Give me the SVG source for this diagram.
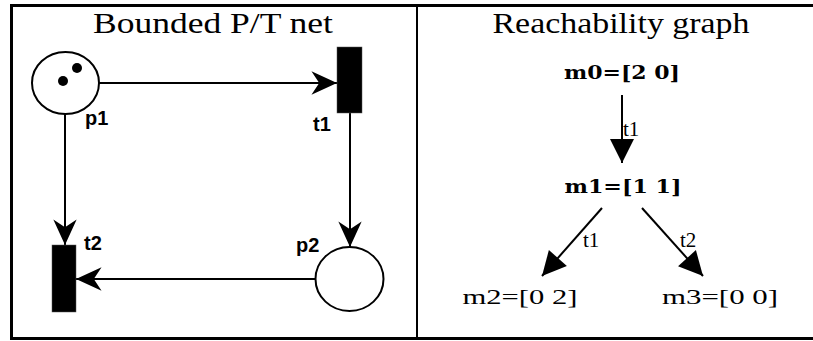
<svg xmlns="http://www.w3.org/2000/svg" width="813" height="341" viewBox="0 0 813 341">
<style>
.title{font-family:"Liberation Serif","DejaVu Serif",serif;font-size:29px;fill:#000}
.lbl{font-family:"Liberation Sans",Arial,sans-serif;font-weight:bold;font-size:20px;fill:#000}
.mk{font-family:"DejaVu Serif","Liberation Serif",serif;font-weight:bold;font-size:18px;fill:#000}
.mk2{font-family:"Liberation Serif","DejaVu Serif",serif;font-size:22px;fill:#000}
.el{font-family:"Liberation Serif","DejaVu Serif",serif;font-size:21px;fill:#000}
.place{fill:#fff;stroke:#000;stroke-width:2}
.trans{fill:#000;stroke:#555;stroke-width:0.5}
.arc{fill:none;stroke:#000;stroke-width:2}
.rarc{fill:none;stroke:#000;stroke-width:2}
</style>
<defs>
<marker id="open" markerUnits="userSpaceOnUse" markerWidth="30" markerHeight="30" viewBox="-25 -12 27 24" refX="0" refY="0" orient="auto">
<path d="M0,0 L-23,-10.5 L-16,0 L-23,10.5 Z" fill="#000"/>
</marker>
<marker id="fill" markerUnits="userSpaceOnUse" markerWidth="30" markerHeight="30" viewBox="-18 -9 20 18" refX="0" refY="0" orient="auto">
<path d="M0,0 L-16,-8 L-16,8 Z" fill="#000"/>
</marker>
</defs>
<rect width="813" height="341" fill="#fff"/>
<g id="frame" stroke="#000" fill="none">
<line x1="10" y1="5.5" x2="813" y2="5.5" stroke-width="3"/>
<line x1="11.5" y1="4" x2="11.5" y2="340" stroke-width="3"/>
<line x1="10" y1="338.5" x2="813" y2="338.5" stroke-width="3"/>
<line x1="417" y1="5" x2="417" y2="338" stroke-width="2"/>
</g>
<text class="title" x="213" y="33" text-anchor="middle" textLength="240" lengthAdjust="spacingAndGlyphs">Bounded P/T net</text>
<text class="title" x="621" y="33" text-anchor="middle" textLength="257" lengthAdjust="spacingAndGlyphs">Reachability graph</text>
<g id="connectors">
<line class="arc" x1="99" y1="83" x2="337" y2="83" marker-end="url(#open)"/>
<line class="arc" x1="65" y1="114" x2="65" y2="245" marker-end="url(#open)"/>
<line class="arc" x1="350" y1="113" x2="350" y2="247" marker-end="url(#open)"/>
<line class="arc" x1="315" y1="279" x2="76" y2="279" marker-end="url(#open)"/>
<line class="rarc" x1="622" y1="95" x2="622" y2="163" marker-end="url(#fill)"/>
<line class="rarc" x1="602" y1="208" x2="542" y2="276" marker-end="url(#fill)"/>
<line class="rarc" x1="642" y1="208" x2="703" y2="276" marker-end="url(#fill)"/>
<text class="el" x="623" y="136">t1</text>
<text class="el" x="583" y="247">t1</text>
<text class="el" x="680" y="247">t2</text>
</g>
<g id="p1">
<ellipse class="place" cx="65.5" cy="83" rx="33.5" ry="31"/>
<circle cx="77" cy="68" r="5" fill="#000"/>
<circle cx="63" cy="81" r="5" fill="#000"/>
<text class="lbl" x="85" y="125">p1</text>
</g>
<g id="t1">
<rect class="trans" x="337" y="47" width="25" height="66"/>
<text class="lbl" x="313" y="131">t1</text>
</g>
<g id="t2">
<rect class="trans" x="52" y="245" width="24" height="67"/>
<text class="lbl" x="84" y="250">t2</text>
</g>
<g id="p2">
<ellipse class="place" cx="349.5" cy="279" rx="34" ry="32"/>
<text class="lbl" x="296" y="252">p2</text>
</g>
<g id="m0"><text class="mk" x="622" y="79" text-anchor="middle" textLength="116" lengthAdjust="spacingAndGlyphs">m0=[2 0]</text></g>
<g id="m1"><text class="mk" x="623" y="193" text-anchor="middle" textLength="117" lengthAdjust="spacingAndGlyphs">m1=[1 1]</text></g>
<g id="m2"><text class="mk2" x="520" y="304" text-anchor="middle" textLength="115" lengthAdjust="spacingAndGlyphs">m2=[0 2]</text></g>
<g id="m3"><text class="mk2" x="720" y="304" text-anchor="middle" textLength="116" lengthAdjust="spacingAndGlyphs">m3=[0 0]</text></g>
</svg>
